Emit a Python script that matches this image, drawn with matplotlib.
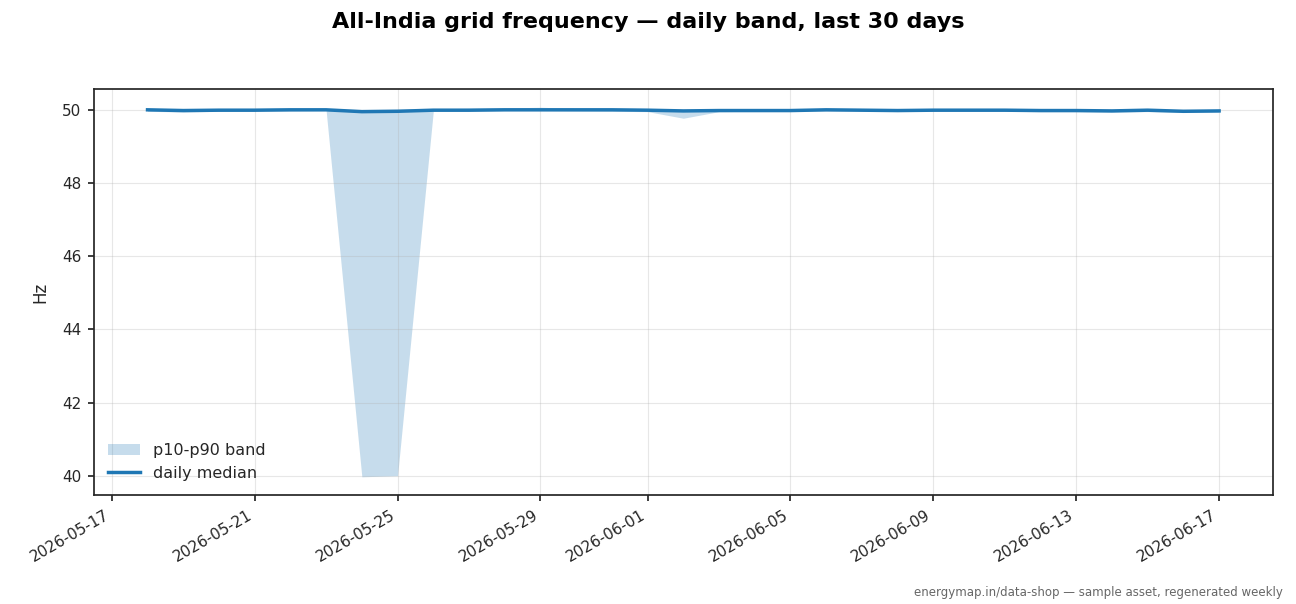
import matplotlib
matplotlib.use("Agg")
import matplotlib.pyplot as plt
import numpy as np
import pandas as pd

# daily frequency stats, Hz
dates = pd.date_range("2026-05-18", "2026-06-17", freq="D")
median = [50.01, 49.99, 50.00, 50.00, 50.01, 50.01, 49.96, 49.97, 50.00, 50.00,
          50.01, 50.01, 50.01, 50.01, 50.00, 49.98, 49.99, 49.99, 49.99, 50.01,
          50.00, 49.99, 50.00, 50.00, 50.00, 49.99, 49.99, 49.98, 50.00, 49.97,
          49.98]
p10 = [49.97, 49.95, 49.97, 49.98, 49.98, 49.99, 39.97, 40.00, 49.97, 49.98,
       49.99, 49.99, 49.98, 49.97, 49.96, 49.78, 49.96, 49.97, 49.97, 49.98,
       49.98, 49.97, 49.97, 49.97, 49.97, 49.96, 49.96, 49.95, 49.96, 49.94,
       49.95]
p90 = [50.03, 50.03, 50.03, 50.04, 50.04, 50.03, 50.02, 50.03, 50.04, 50.05,
       50.06, 50.08, 50.05, 50.04, 50.03, 50.02, 50.03, 50.03, 50.03, 50.04,
       50.03, 50.03, 50.03, 50.03, 50.03, 50.03, 50.02, 50.02, 50.03, 50.01,
       50.01]

dark = "#262626"
plt.rcParams["text.color"] = dark
plt.rcParams["axes.labelcolor"] = dark
plt.rcParams["xtick.color"] = dark
plt.rcParams["ytick.color"] = dark

fig = plt.figure(figsize=(12.96, 6.04), dpi=100)
ax = fig.add_axes([0.0725, 0.180, 0.9095, 0.673])

ax.fill_between(dates, p10, p90, color="C0", alpha=0.25, linewidth=0, label="p10-p90 band")
ax.plot(dates, median, color="C0", lw=2.5, label="daily median")

ax.set_ylabel("Hz", fontsize=12, labelpad=9)
ax.grid(True, alpha=0.3)
ax.legend(loc="lower left", frameon=False, fontsize=11.5)
ax.tick_params(labelsize=11, length=4.5, width=1.25, pad=4.5)
for s in ax.spines.values():
    s.set_linewidth(1.25)
    s.set_color(dark)
for lab in ax.get_xticklabels():
    lab.set_rotation(30)
    lab.set_ha("right")

fig.suptitle("All-India grid frequency \u2014 daily band, last 30 days",
             fontsize=16, fontweight="bold", y=0.98, color="black")
fig.text(0.99, 0.008, "energymap.in/data-shop \u2014 sample asset, regenerated weekly",
         ha="right", va="bottom", fontsize=8.5, color="#666666")

fig.savefig("out.png", dpi=100)
